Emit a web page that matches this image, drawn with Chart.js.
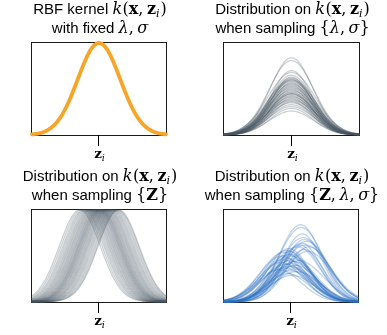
<!DOCTYPE html>
<html>
<head>
<meta charset="utf-8">
<script src="https://cdn.jsdelivr.net/npm/chart.js@4.4.1/dist/chart.umd.min.js"></script>
<style>
html,body{margin:0;padding:0;background:#fff;width:387px;height:335px;overflow:hidden}
canvas{position:absolute}
</style>
</head>
<body>
<canvas id="c1" width="193" height="167" style="left:0;top:0"></canvas>
<canvas id="c2" width="194" height="167" style="left:193px;top:0"></canvas>
<canvas id="c3" width="193" height="168" style="left:0;top:167px"></canvas>
<canvas id="c4" width="194" height="168" style="left:193px;top:167px"></canvas>
<script>
// ---- data: kernel parameters of every curve ----
// k(x, z) = lambda * exp(-(x - z)^2 / (2 sigma^2)), x axis from -3 to 3, z_i at 0
const xMin = -3, xMax = 3;
const tickValues = [0];
const tickLabel = ['z', 'i'];

// panel 1: fixed kernel
const p1Center = [0];
const p1Lambda = [1.0];
const p1Sigma = [0.95];

// panel 2: sampling {lambda, sigma}
const p2Lambda = [0.84,0.81,0.70,0.68,0.65,0.63,0.62,0.61,0.60,0.60,0.59,0.58,0.57,0.56,0.55,0.54,0.53,0.52,0.51,0.50,
                  0.49,0.48,0.47,0.46,0.45,0.45,0.44,0.43,0.42,0.41,0.40,0.39,0.38,0.37,0.36,0.35,0.33,0.31,0.29,0.26];
const p2Sigma  = [0.95,1.00,0.92,1.05,0.98,0.90,1.02,0.96,1.08,0.94,0.99,1.03,0.91,0.97,1.06,0.93,1.00,0.95,1.04,0.89,
                  0.98,1.07,0.92,1.01,0.96,0.94,1.05,0.90,0.99,1.03,0.93,0.97,1.08,0.95,0.91,1.02,0.96,1.00,0.94,0.98];

// panel 3: sampling {Z}
const p3Center = [-0.86,-0.78,-0.70,-0.64,-0.58,-0.52,-0.47,-0.42,-0.38,-0.33,-0.29,-0.25,-0.21,-0.17,-0.13,-0.10,-0.06,-0.03,0.00,0.03,
                  0.06,0.09,0.12,0.15,0.19,0.22,0.26,0.30,0.34,0.38,0.42,0.46,0.51,0.56,0.61,0.66,0.72,0.78,0.84,0.88];
const p3Lambda = 1.0;
const p3Sigma = 0.92;

// panel 4: sampling {Z, lambda, sigma}
const p4Center = [0.42,0.45,0.50,0.55,0.60,0.70,0.48,0.65,0.38,0.80,0.30,0.58,0.75,-0.10,-0.20,-0.05,-0.30,0.00,-0.15,-0.40,
                  0.05,-0.25,0.10,-0.35,-0.05,0.15,-0.45,0.00,-0.20,0.20,-0.10,0.05,-0.30,0.10,-0.55,0.00,0.25,-0.15,0.05,0.35];
const p4Lambda = [0.84,0.81,0.74,0.70,0.68,0.66,0.64,0.62,0.62,0.60,0.60,0.57,0.55,0.58,0.56,0.55,0.54,0.52,0.51,0.50,
                  0.50,0.48,0.47,0.46,0.45,0.44,0.43,0.42,0.41,0.40,0.39,0.38,0.37,0.36,0.35,0.34,0.33,0.31,0.29,0.45];
const p4Sigma  = [0.95,1.00,0.90,1.05,0.95,1.00,0.88,1.10,0.92,0.98,1.00,0.90,1.05,0.95,1.00,0.90,1.05,0.95,1.10,1.00,
                  0.88,0.98,1.02,0.92,1.08,0.95,1.00,0.90,1.05,0.97,0.93,1.00,1.10,0.90,1.00,0.95,1.05,0.92,1.00,1.10];

// ---- titles ----
const SANS = '15px "Liberation Sans", Arial, sans-serif';
const MI = 'italic 16px "DejaVu Serif", serif';
const MR = '16px "DejaVu Serif", serif';
const MB = 'bold 16px "DejaVu Serif", serif';
const SUB = 'italic 11px "DejaVu Serif", serif';
const kx = [{t:'k',f:MI,sp:0.5},{t:'(',f:MR},{t:'x',f:MB},{t:',',f:MR,sp:3.5},{t:'z',f:MB},{t:'i',f:SUB,dy:3,sp:1},{t:')',f:MR}];
const titles = [
  [[{t:'RBF kernel ',f:SANS}].concat(kx), [{t:'with fixed ',f:SANS},{t:'λ',f:MI},{t:',',f:MR,sp:3.5},{t:'σ',f:MI}]],
  [[{t:'Distribution on ',f:SANS}].concat(kx), [{t:'when sampling ',f:SANS},{t:'{',f:MR},{t:'λ',f:MI},{t:',',f:MR,sp:3.5},{t:'σ',f:MI},{t:'}',f:MR}]],
  [[{t:'Distribution on ',f:SANS}].concat(kx), [{t:'when sampling ',f:SANS},{t:'{',f:MR},{t:'Z',f:MB},{t:'}',f:MR}]],
  [[{t:'Distribution on ',f:SANS}].concat(kx), [{t:'when sampling ',f:SANS},{t:'{',f:MR},{t:'Z',f:MB},{t:',',f:MR,sp:3.5},{t:'λ',f:MI},{t:',',f:MR,sp:3.5},{t:'σ',f:MI},{t:'}',f:MR}]]
];

function kernelPoints(lambda, center, sigma) {
  const pts = [];
  const n = 120;
  for (let j = 0; j <= n; j++) {
    const x = xMin + (xMax - xMin) * j / n;
    pts.push({x: x, y: lambda * Math.exp(-((x - center) ** 2) / (2 * sigma * sigma))});
  }
  return pts;
}

function drawRich(ctx, segs, cx, y) {
  let total = 0;
  const ws = segs.map(s => { ctx.font = s.f; const w = ctx.measureText(s.t).width + (s.sp || 0); total += w; return w; });
  let x = cx - total / 2;
  ctx.textBaseline = 'alphabetic';
  ctx.textAlign = 'left';
  ctx.fillStyle = '#000';
  segs.forEach((s, i) => { ctx.font = s.f; ctx.fillText(s.t, x, y + (s.dy || 0)); x += ws[i]; });
}

const framePlugin = {
  id: 'frame',
  beforeDatasetsDraw(chart) {
    const a = chart.chartArea, ctx = chart.ctx;
    ctx.save();
    ctx.strokeStyle = '#1a1a1a';
    ctx.lineWidth = 1;
    ctx.strokeRect(a.left - 0.5, a.top - 0.5, a.right - a.left + 1, a.bottom - a.top + 1);
    ctx.restore();
  },
  afterDraw(chart, args, opts) {
    const a = chart.chartArea, ctx = chart.ctx, xs = chart.scales.x;
    ctx.save();
    ctx.strokeStyle = '#000';
    ctx.lineWidth = 1;
    tickValues.forEach(v => {
      const px = Math.round(xs.getPixelForValue(v)) - 0.5;
      ctx.beginPath(); ctx.moveTo(px, a.bottom); ctx.lineTo(px, a.bottom + 11); ctx.stroke();
      drawRich(ctx, [{t:tickLabel[0],f:'bold 13.5px "DejaVu Serif", serif'},{t:tickLabel[1],f:'italic 9.5px "DejaVu Serif", serif',dy:3}], px + 1, a.bottom + 23);
    });
    const cx = (a.left + a.right) / 2 + 1;
    drawRich(ctx, opts.lines[0], cx, 14);
    drawRich(ctx, opts.lines[1], cx, 33);
    ctx.restore();
  }
};

function makeChart(id, datasets, pad, lines) {
  new Chart(document.getElementById(id), {
    type: 'line',
    data: {datasets: datasets},
    options: {
      responsive: false, animation: false, devicePixelRatio: 1,
      layout: {padding: pad},
      parsing: false, normalized: true,
      elements: {point: {radius: 0}, line: {tension: 0, borderCapStyle: 'round', borderJoinStyle: 'round'}},
      plugins: {legend: {display: false}, tooltip: {enabled: false}, title: {display: false}, frame: {lines: lines}},
      scales: {
        x: {type: 'linear', min: xMin, max: xMax, display: false},
        y: {type: 'linear', min: 0, max: 1, display: false}
      }
    },
    plugins: [framePlugin]
  });
}

const gray = 'rgba(72,86,96,0.27)';
const blue = 'rgba(48,114,192,0.3)';

makeChart('c1', p1Center.map((c, i) => ({data: kernelPoints(p1Lambda[i], c, p1Sigma[i]), borderColor: '#F7A528', borderWidth: 3.8, fill: false, clip: false})),
  {left: 32, right: 27, top: 43, bottom: 32}, titles[0]);
makeChart('c2', p2Lambda.map((l, i) => ({data: kernelPoints(l, 0, p2Sigma[i]), borderColor: gray, borderWidth: 1.3, fill: false, clip: false})),
  {left: 31, right: 28, top: 43, bottom: 32}, titles[1]);
makeChart('c3', p3Center.map(c => ({data: kernelPoints(p3Lambda, c, p3Sigma), borderColor: gray, borderWidth: 1.3, fill: false, clip: false})),
  {left: 32, right: 27, top: 43, bottom: 33}, titles[2]);
makeChart('c4', p4Center.map((c, i) => ({data: kernelPoints(p4Lambda[i], c, p4Sigma[i]), borderColor: blue, borderWidth: 1.3, fill: false, clip: false})),
  {left: 31, right: 29, top: 43, bottom: 33}, titles[3]);
</script>
</body>
</html>
